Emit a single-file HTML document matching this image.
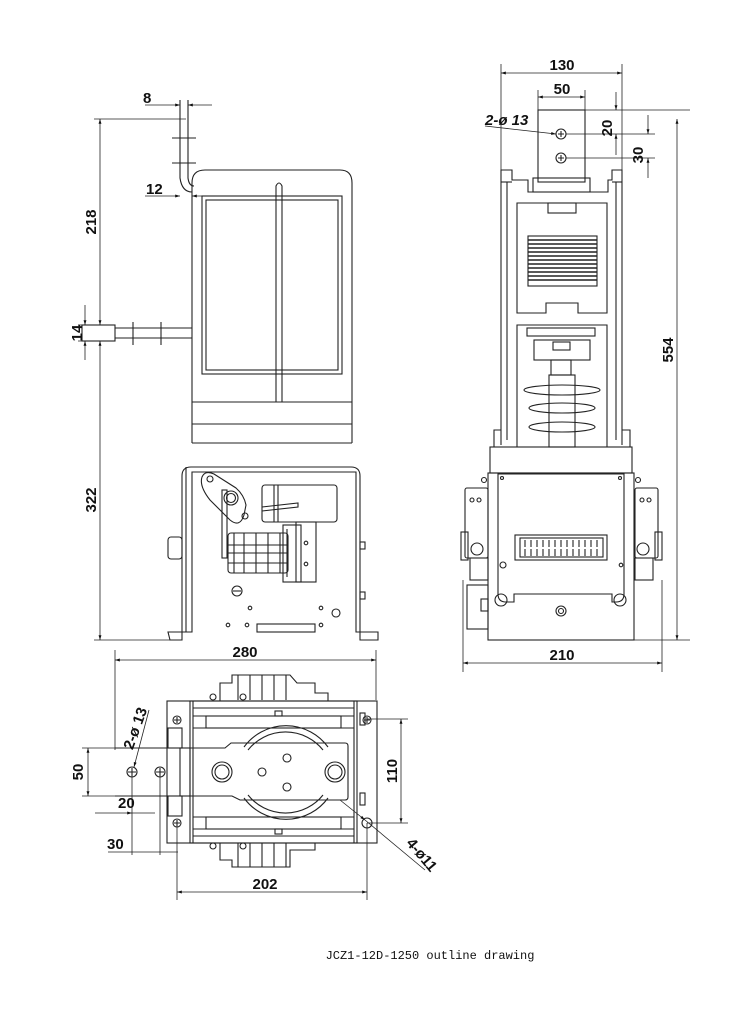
<!DOCTYPE html>
<html><head><meta charset="utf-8"><style>
html,body{margin:0;padding:0;background:#fff}
svg{display:block}
text{font-family:"Liberation Sans Narrow","Liberation Sans",sans-serif;font-weight:bold;font-size:15px;fill:#111}
.c{font-family:"Liberation Mono",monospace;font-weight:normal;font-size:12px}
</style></head><body>
<svg width="737" height="1021" viewBox="0 0 737 1021" xmlns="http://www.w3.org/2000/svg">
<defs>
<marker id="a" viewBox="0 0 10 10" refX="10" refY="5" markerWidth="9" markerHeight="6" orient="auto-start-reverse"><path d="M0,2 L10,5 L0,8 z" fill="#111"/></marker>
</defs>
<g fill="none" stroke="#222" stroke-width="1.1">
<!-- ===== LEFT SIDE VIEW ===== -->
<path d="M192,443 V183 Q192,170 205,170 H340 Q352,170 352,183 V443"/>
<rect x="202" y="196" width="140" height="178"/>
<rect x="206" y="200" width="132" height="170"/>
<path d="M276,402 V186 Q279,180 282,186 V402"/>
<line x1="192" y1="402" x2="352" y2="402"/>
<line x1="192" y1="424" x2="352" y2="424"/>
<line x1="192" y1="443" x2="352" y2="443"/>
<!-- vertical bar top -->
<path d="M180,100 V178 Q182,192 192,192"/>
<path d="M188,100 V178 Q189,186 194,186"/>
<line x1="172" y1="138" x2="196" y2="138"/><line x1="172" y1="163" x2="196" y2="163"/>
<!-- horizontal busbar -->
<rect x="82" y="325" width="33" height="16"/>
<line x1="115" y1="328" x2="192" y2="328"/><line x1="115" y1="338" x2="192" y2="338"/>
<line x1="133" y1="322" x2="133" y2="345"/><line x1="161" y1="322" x2="161" y2="345"/>
<!-- lower box -->
<path d="M170,640 H182 V476 Q182,467 191,467 H351 Q360,467 360,476 V640 H378 V632 H356 V472 H192 V632 H168 Z"/>
<line x1="186" y1="467" x2="186" y2="632"/>
<rect x="168" y="537" width="14" height="22" rx="3"/>
<path d="M202,477 Q199,486 210,500 L230,520 Q240,528 244,515 L246,505 Q244,495 236,488 L214,474 Q205,470 202,477Z"/>
<circle cx="231" cy="498" r="7"/><circle cx="231" cy="498" r="4.5"/>
<circle cx="210" cy="479" r="3"/><circle cx="245" cy="516" r="3"/>
<rect x="222" y="490" width="5" height="68"/>
<rect x="262" y="485" width="75" height="37" rx="3"/>
<line x1="274" y1="485" x2="274" y2="522"/><line x1="278" y1="485" x2="278" y2="522"/>
<path d="M262,507 L298,503 V507 L262,511"/>
<rect x="228" y="533" width="60" height="40" rx="3"/>
<path d="M234,533 V573 M244,533 V573 M256,533 V573 M268,533 V573 M280,533 V573 M228,545 H288 M228,553 H288 M228,563 H288"/>
<rect x="283" y="525" width="18" height="57"/>
<rect x="296" y="522" width="20" height="60"/>
<line x1="287" y1="529" x2="287" y2="577"/>
<circle cx="306" cy="543" r="1.8"/><circle cx="306" cy="564" r="1.8"/>
<circle cx="237" cy="591" r="5"/><line x1="233" y1="591" x2="241" y2="591"/>
<circle cx="250" cy="608" r="1.8"/><circle cx="321" cy="608" r="1.8"/>
<circle cx="228" cy="625" r="1.8"/><circle cx="247" cy="625" r="1.8"/><circle cx="321" cy="625" r="1.8"/>
<circle cx="336" cy="613" r="4"/>
<rect x="257" y="624" width="58" height="8"/>
<rect x="360" y="542" width="5" height="7"/><rect x="360" y="592" width="5" height="7"/>
<!-- left dims -->
<line x1="94" y1="119" x2="186" y2="119" stroke-width="0.8"/>
<line x1="78" y1="341" x2="115" y2="341" stroke-width="0.8"/>
<line x1="78" y1="325" x2="84" y2="325" stroke-width="0.8"/>
<line x1="94" y1="640" x2="170" y2="640" stroke-width="0.8"/>
<line x1="100" y1="119" x2="100" y2="325" marker-start="url(#a)" marker-end="url(#a)" stroke-width="0.8"/>
<line x1="100" y1="341" x2="100" y2="640" marker-start="url(#a)" marker-end="url(#a)" stroke-width="0.8"/>
<line x1="85" y1="305" x2="85" y2="325" marker-end="url(#a)" stroke-width="0.8"/>
<line x1="85" y1="360" x2="85" y2="341" marker-end="url(#a)" stroke-width="0.8"/>
<line x1="145" y1="105" x2="180" y2="105" marker-end="url(#a)" stroke-width="0.8"/>
<line x1="212" y1="105" x2="188" y2="105" marker-end="url(#a)" stroke-width="0.8"/>
<line x1="145" y1="196" x2="180" y2="196" marker-end="url(#a)" stroke-width="0.8"/>
<line x1="215" y1="196" x2="192" y2="196" marker-end="url(#a)" stroke-width="0.8"/>

<!-- ===== RIGHT FRONT VIEW ===== -->
<rect x="538" y="110" width="47" height="72"/>
<circle cx="561" cy="134" r="5"/><path d="M558,134h6M561,131v6"/>
<circle cx="561" cy="158" r="5"/><path d="M558,158h6M561,155v6"/>
<rect x="533" y="178" width="57" height="14"/>
<path d="M501,445 V170 H512 V180 H528 V192 H608 V180 H612 V170 H622 V445"/>
<line x1="507" y1="182" x2="507" y2="440"/><line x1="616" y1="182" x2="616" y2="440"/>
<line x1="501" y1="182" x2="512" y2="182"/><line x1="612" y1="182" x2="622" y2="182"/>
<path d="M517,203 H607 V313 H578 V303 H546 V313 H517 Z"/>
<rect x="548" y="203" width="28" height="10"/>
<rect x="528" y="236" width="69" height="50"/>
<path d="M528,240h69M528,244h69M528,248h69M528,252h69M528,256h69M528,260h69M528,264h69M528,268h69M528,272h69M528,276h69M528,280h69" stroke-width="1.4"/>
<path d="M517,447 V325 H607 V447"/>
<rect x="527" y="328" width="68" height="8"/>
<rect x="534" y="340" width="56" height="20"/>
<rect x="553" y="342" width="17" height="8"/>
<rect x="551" y="360" width="20" height="15"/>
<rect x="549" y="375" width="26" height="72"/>
<ellipse cx="562" cy="390" rx="38" ry="5"/>
<ellipse cx="562" cy="408" rx="33" ry="5"/>
<ellipse cx="562" cy="427" rx="33" ry="5"/>
<path d="M494,447 V430 H501 M622,430 H630 V447"/>
<rect x="490" y="447" width="142" height="26"/>
<rect x="488" y="473" width="146" height="167"/>
<path d="M498,474 H624 V594 Q624,602 616,602 H612 V594 H514 V602 H506 Q498,602 498,594 Z"/>
<circle cx="502" cy="478" r="1.5"/><circle cx="620" cy="478" r="1.5"/>
<rect x="515" y="535" width="92" height="25"/>
<rect x="520" y="538" width="83" height="19"/>
<path d="M525,540v7M531,540v7M537,540v7M543,540v7M549,540v7M555,540v7M561,540v7M567,540v7M573,540v7M579,540v7M585,540v7M591,540v7M597,540v7M525,549v7M531,549v7M537,549v7M543,549v7M549,549v7M555,549v7M561,549v7M567,549v7M573,549v7M579,549v7M585,549v7M591,549v7M597,549v7"/>
<circle cx="503" cy="565" r="3"/><circle cx="621" cy="565" r="1.8"/>
<circle cx="501" cy="600" r="6"/><circle cx="620" cy="600" r="6"/>
<circle cx="561" cy="611" r="5"/><circle cx="561" cy="611" r="2.5"/>
<rect x="465" y="488" width="23" height="70" rx="2"/>
<rect x="461" y="532" width="7" height="28"/>
<circle cx="472" cy="500" r="2"/><circle cx="479" cy="500" r="2"/><circle cx="477" cy="549" r="6"/>
<rect x="470" y="558" width="18" height="22"/>
<rect x="635" y="488" width="23" height="70" rx="2"/>
<rect x="655" y="532" width="7" height="28"/>
<circle cx="642" cy="500" r="2"/><circle cx="649" cy="500" r="2"/><circle cx="643" cy="549" r="6"/>
<rect x="635" y="558" width="18" height="22"/>
<rect x="467" y="585" width="21" height="44"/><rect x="481" y="599" width="7" height="12"/>
<circle cx="484" cy="480" r="2.5"/><circle cx="638" cy="480" r="2.5"/>
<!-- right dims -->
<line x1="501" y1="64" x2="501" y2="170" stroke-width="0.8"/>
<line x1="622" y1="64" x2="622" y2="170" stroke-width="0.8"/>
<line x1="501" y1="73" x2="622" y2="73" marker-start="url(#a)" marker-end="url(#a)" stroke-width="0.8"/>
<line x1="538" y1="90" x2="538" y2="110" stroke-width="0.8"/>
<line x1="585" y1="90" x2="585" y2="110" stroke-width="0.8"/>
<line x1="538" y1="97" x2="585" y2="97" marker-start="url(#a)" marker-end="url(#a)" stroke-width="0.8"/>
<line x1="585" y1="110" x2="690" y2="110" stroke-width="0.8"/>
<line x1="566" y1="134" x2="655" y2="134" stroke-width="0.8"/>
<line x1="566" y1="158" x2="655" y2="158" stroke-width="0.8"/>
<line x1="616" y1="92" x2="616" y2="110" marker-end="url(#a)" stroke-width="0.8"/>
<line x1="616" y1="155" x2="616" y2="134" marker-end="url(#a)" stroke-width="0.8"/>
<line x1="648" y1="115" x2="648" y2="134" marker-end="url(#a)" stroke-width="0.8"/>
<line x1="648" y1="178" x2="648" y2="158" marker-end="url(#a)" stroke-width="0.8"/>
<line x1="677" y1="119" x2="677" y2="640" marker-start="url(#a)" marker-end="url(#a)" stroke-width="0.8"/>
<line x1="634" y1="640" x2="690" y2="640" stroke-width="0.8"/>
<line x1="485" y1="126" x2="556" y2="134" marker-end="url(#a)" stroke-width="0.8"/>
<line x1="463" y1="580" x2="463" y2="672" stroke-width="0.8"/>
<line x1="662" y1="580" x2="662" y2="672" stroke-width="0.8"/>
<line x1="463" y1="663" x2="662" y2="663" marker-start="url(#a)" marker-end="url(#a)" stroke-width="0.8"/>

<!-- ===== BOTTOM (TOP) VIEW ===== -->
<line x1="115" y1="650" x2="115" y2="750" stroke-width="0.8"/>
<line x1="376" y1="650" x2="376" y2="700" stroke-width="0.8"/>
<line x1="115" y1="660" x2="376" y2="660" marker-start="url(#a)" marker-end="url(#a)" stroke-width="0.8"/>
<rect x="167" y="701" width="210" height="142"/>
<rect x="190" y="701" width="167" height="142"/>
<line x1="193" y1="701" x2="193" y2="843"/><line x1="354" y1="701" x2="354" y2="843"/>
<line x1="193" y1="708" x2="354" y2="708"/><line x1="193" y1="836" x2="354" y2="836"/>
<rect x="206" y="716" width="135" height="12"/>
<rect x="206" y="817" width="135" height="12"/>
<line x1="193" y1="716" x2="354" y2="716"/><line x1="193" y1="728" x2="354" y2="728"/>
<line x1="193" y1="817" x2="354" y2="817"/><line x1="193" y1="829" x2="354" y2="829"/>
<rect x="275" y="711" width="7" height="5"/><rect x="275" y="829" width="7" height="5"/>
<path d="M244,747 A52,52 0 0 1 328,747"/><path d="M248,750 A48,48 0 0 1 323,750"/>
<path d="M244,798 A52,52 0 0 0 328,798"/><path d="M248,795 A48,48 0 0 0 323,795"/>
<path d="M115,748 H225 L231,743 H345 Q348,743 348,746 V797 Q348,800 345,800 H240 L232,796 H115"/>
<rect x="180" y="748" width="10" height="48"/>
<circle cx="222" cy="772" r="10"/><circle cx="222" cy="772" r="7"/>
<circle cx="335" cy="772" r="10"/><circle cx="335" cy="772" r="7"/>
<circle cx="262" cy="772" r="4"/><circle cx="287" cy="758" r="4"/><circle cx="287" cy="787" r="4"/>
<circle cx="132" cy="772" r="5"/><path d="M128,772h8M132,768v8"/>
<circle cx="160" cy="772" r="5"/><path d="M156,772h8M160,768v8"/>
<circle cx="177" cy="720" r="4"/><path d="M174,720h6M177,717v6"/>
<circle cx="177" cy="823" r="4"/><path d="M174,823h6M177,820v6"/>
<circle cx="367" cy="720" r="4"/><path d="M364,720h6M367,717v6"/>
<circle cx="367" cy="823" r="5"/>
<rect x="168" y="728" width="14" height="20"/><rect x="168" y="796" width="14" height="20"/>
<rect x="360" y="713" width="5" height="12"/><rect x="360" y="793" width="5" height="12"/>
<!-- top/bottom devices -->
<path d="M220,701 V683 H232 V675 H290 L297,683 H315 V693 H328 V701"/>
<path d="M238,675 V700 M250,675 V700 M262,675 V700 M274,675 V700 M286,675 V700"/>
<path d="M220,843 V860 H232 V867 H290 V850 H315 V843"/>
<path d="M238,843 V867 M250,843 V867 M262,843 V867 M274,843 V867 M286,843 V867"/>
<circle cx="213" cy="697" r="3"/><circle cx="243" cy="697" r="3"/>
<circle cx="213" cy="846" r="3"/><circle cx="243" cy="846" r="3"/>
<!-- bottom dims -->
<line x1="82" y1="748" x2="115" y2="748" stroke-width="0.8"/>
<line x1="82" y1="796" x2="115" y2="796" stroke-width="0.8"/>
<line x1="88" y1="748" x2="88" y2="796" marker-start="url(#a)" marker-end="url(#a)" stroke-width="0.8"/>
<line x1="132" y1="772" x2="132" y2="855" stroke-width="0.8"/>
<line x1="160" y1="772" x2="160" y2="855" stroke-width="0.8"/>
<line x1="95" y1="813" x2="132" y2="813" marker-end="url(#a)" stroke-width="0.8"/>
<line x1="155" y1="813" x2="132" y2="813" stroke-width="0.8"/>
<line x1="108" y1="852" x2="132" y2="852" stroke-width="0.8"/>
<line x1="132" y1="852" x2="178" y2="852" stroke-width="0.8"/>
<line x1="177" y1="823" x2="177" y2="900" stroke-width="0.8"/>
<line x1="367" y1="823" x2="367" y2="900" stroke-width="0.8"/>
<line x1="177" y1="892" x2="367" y2="892" marker-start="url(#a)" marker-end="url(#a)" stroke-width="0.8"/>
<line x1="367" y1="719" x2="408" y2="719" stroke-width="0.8"/>
<line x1="367" y1="823" x2="408" y2="823" stroke-width="0.8"/>
<line x1="401" y1="719" x2="401" y2="823" marker-start="url(#a)" marker-end="url(#a)" stroke-width="0.8"/>
<line x1="149" y1="710" x2="134" y2="767" marker-end="url(#a)" stroke-width="0.8"/>
<line x1="340" y1="800" x2="365" y2="820" marker-end="url(#a)" stroke-width="0.8"/>
<line x1="365" y1="820" x2="425" y2="870" stroke-width="0.8"/>
</g>
<!-- labels -->
<text x="143" y="103">8</text>
<text x="146" y="194">12</text>
<text transform="translate(96,222) rotate(-90)" text-anchor="middle">218</text>
<text transform="translate(82,333) rotate(-90)" text-anchor="middle" font-size="13">14</text>
<text transform="translate(96,500) rotate(-90)" text-anchor="middle">322</text>
<text x="562" y="70" text-anchor="middle">130</text>
<text x="562" y="94" text-anchor="middle">50</text>
<text x="485" y="125" font-style="italic" font-size="14">2-ø 13</text>
<text transform="translate(612,128) rotate(-90)" text-anchor="middle" font-size="14">20</text>
<text transform="translate(643,155) rotate(-90)" text-anchor="middle" font-size="14">30</text>
<text transform="translate(673,350) rotate(-90)" text-anchor="middle">554</text>
<text x="562" y="660" text-anchor="middle">210</text>
<text x="245" y="657" text-anchor="middle">280</text>
<text transform="translate(83,772) rotate(-90)" text-anchor="middle">50</text>
<text x="118" y="808">20</text>
<text x="107" y="849">30</text>
<text transform="translate(140,730) rotate(-70)" text-anchor="middle" font-size="14">2-ø 13</text>
<text x="265" y="889" text-anchor="middle">202</text>
<text transform="translate(397,771) rotate(-90)" text-anchor="middle">110</text>
<text transform="translate(418,858) rotate(50)" text-anchor="middle" font-size="14">4-ø11</text>
<text x="430" y="959" text-anchor="middle" class="c">JCZ1-12D-1250 outline drawing</text>
</svg>
</body></html>
